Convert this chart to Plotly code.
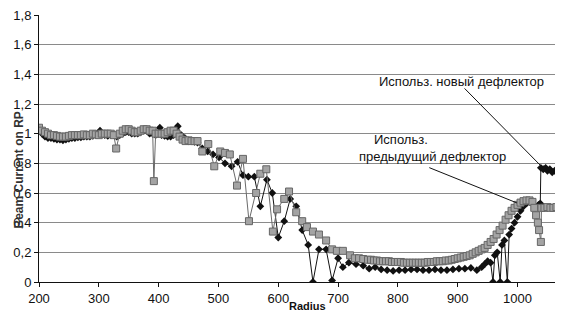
import plotly.graph_objects as go

# ---- data: previous deflector (grey squares) ----
prev_r = [200, 205, 210, 215, 220, 225, 230, 235, 240, 245, 250, 255, 260, 265, 270, 275,
          280, 285, 290, 295, 300, 305, 310, 315, 320, 325, 329, 335, 340, 345, 350, 355,
          360, 365, 370, 375, 380, 385, 390, 392, 395, 400, 405, 410, 415, 420, 425, 430,
          435, 440, 445, 450, 455, 460, 465,
          473, 483, 493, 503, 511, 519, 531, 541, 551, 563, 570, 580, 591, 598, 610, 618,
          630, 640, 648, 658, 668, 680, 690, 698, 708, 720, 728, 735, 742, 750, 755, 760,
          765, 770, 775, 780, 785, 790, 795, 800, 805, 810, 815, 820, 825, 830, 835, 840,
          845, 850, 855, 860, 865, 870, 875, 880, 885, 890, 895, 900, 905, 910, 915, 920,
          925, 930, 935, 940, 945, 950, 955, 960, 965, 970, 975, 980, 985, 990, 995, 1000,
          1005, 1010, 1015, 1020, 1025, 1028, 1031, 1034, 1036, 1039, 1040, 1045, 1050,
          1055, 1060, 1065, 1070, 1075]
prev_v = [1.04, 1.02, 1.01, 1.0, 0.99, 0.99, 0.985, 0.98, 0.98, 0.98, 0.985, 0.99, 0.99, 0.99,
          0.99, 0.995, 0.99, 0.99, 1.0, 0.995, 0.99, 1.0, 1.0, 1.0, 1.0, 0.99, 0.90, 1.0, 1.02,
          1.03, 1.03, 1.02, 1.01, 1.01, 1.02, 1.03, 1.03, 1.02, 1.02, 0.68, 1.0, 1.0, 1.0, 1.0,
          1.01, 1.02, 1.02, 1.0, 0.98, 0.96, 0.95, 0.955, 0.95, 0.95, 0.95,
          0.88, 0.93, 0.78, 0.88, 0.87, 0.86, 0.65, 0.83, 0.41, 0.60, 0.73, 0.76, 0.34, 0.49,
          0.56, 0.61, 0.47, 0.41, 0.37, 0.34, 0.32, 0.28, 0.22, 0.21, 0.21, 0.18, 0.16, 0.16,
          0.155, 0.15, 0.15, 0.145, 0.145, 0.14, 0.14, 0.14, 0.14, 0.135, 0.135, 0.135, 0.135,
          0.13, 0.13, 0.13, 0.13, 0.13, 0.13, 0.13, 0.13, 0.135, 0.135, 0.135, 0.14, 0.14,
          0.14, 0.145, 0.145, 0.15, 0.155, 0.16, 0.165, 0.17, 0.175, 0.18, 0.19, 0.2, 0.21,
          0.22, 0.23, 0.25, 0.27, 0.29, 0.32, 0.35, 0.38, 0.42, 0.45, 0.48, 0.50, 0.52,
          0.535, 0.545, 0.55, 0.55, 0.54, 0.50, 0.45, 0.40, 0.35, 0.27, 0.50, 0.50, 0.505,
          0.50, 0.50, 0.505, 0.50, 0.50]

# ---- data: new deflector (black diamonds) ----
new_r = [200, 205, 210, 215, 220, 225, 230, 235, 240, 245, 250, 255, 260, 265, 270, 275,
         280, 285, 290, 295, 302, 305, 310, 315, 320, 325, 330, 335, 340, 345, 350, 355,
         360, 365, 370, 375, 380, 385, 390, 395, 402, 405, 410, 415, 420, 425, 432, 438,
         444, 450, 455, 460, 465,
         473, 482, 491, 501, 511, 522, 532, 541, 550, 560, 570, 581, 590, 600, 610, 620,
         630, 640, 650, 658, 668, 680, 690, 700, 708, 718, 730, 742, 752, 762, 772, 782,
         792, 802, 812, 822, 832, 842, 852, 862, 872, 882, 892, 902, 912, 922, 932, 940,
         945, 950, 955, 959, 962, 966, 971, 974, 978, 983, 986, 990, 995, 1000, 1005, 1010,
         1015, 1020, 1025, 1030, 1035, 1038, 1039, 1043, 1047, 1050, 1054, 1058, 1062,
         1066, 1070, 1073]
new_v = [1.03, 1.0, 0.98, 0.97, 0.97, 0.965, 0.96, 0.96, 0.955, 0.96, 0.965, 0.97, 0.97,
         0.975, 0.975, 0.98, 0.98, 0.98, 0.985, 0.99, 1.02, 1.0, 0.99, 0.985, 0.99, 0.99,
         0.98, 0.99, 1.0, 1.01, 1.01, 1.0, 1.0, 1.0, 1.01, 1.02, 1.02, 1.0, 1.0, 0.99, 1.04,
         0.99, 0.985, 0.98, 0.98, 0.99, 1.05, 0.99, 0.97, 0.955, 0.95, 0.945, 0.94,
         0.90, 0.88, 0.86, 0.84, 0.80, 0.78, 0.81, 0.72, 0.71, 0.71, 0.51, 0.69, 0.60, 0.30,
         0.41, 0.56, 0.51, 0.35, 0.25, 0.0, 0.22, 0.22, 0.01, 0.16, 0.10, 0.13, 0.12, 0.11,
         0.09, 0.10, 0.085, 0.08, 0.075, 0.08, 0.08, 0.085, 0.085, 0.08, 0.08, 0.085, 0.08,
         0.08, 0.085, 0.09, 0.09, 0.095, 0.08, 0.10,
         0.12, 0.14, 0.13, 0.0, 0.18, 0.20, 0.0, 0.25, 0.28, 0.0, 0.32, 0.36, 0.40, 0.44,
         0.48, 0.51, 0.53, 0.54, 0.53, 0.50, 0.52, 0.53, 0.77, 0.76, 0.77, 0.75, 0.76, 0.74,
         0.75, 0.74, 0.72, 0.71]

x_ticks = [200, 300, 400, 500, 600, 700, 800, 900, 1000]
y_ticks = [0, 0.2, 0.4, 0.6, 0.8, 1.0, 1.2, 1.4, 1.6, 1.8]
y_tick_labels = ["0", "0,2", "0,4", "0,6", "0,8", "1", "1,2", "1,4", "1,6", "1,8"]

fig = go.Figure()
fig.add_trace(go.Scatter(
    x=new_r, y=new_v, mode="lines+markers", name="new",
    line=dict(color="#111111", width=1),
    marker=dict(symbol="diamond", size=6, color="#111111"),
))
fig.add_trace(go.Scatter(
    x=prev_r, y=prev_v, mode="lines+markers", name="prev",
    line=dict(color="#6a6a6a", width=1),
    marker=dict(symbol="square", size=7, color="#a4a4a4",
                line=dict(color="#666666", width=1)),
))

font = dict(family="Liberation Sans, Arial, sans-serif", size=12, color="#111")

# page body has an 8px default margin, so the figure is sized to fill the rest
fig.update_layout(
    width=555, height=305,
    margin=dict(l=31, r=0, t=7, b=31, autoexpand=False),
    paper_bgcolor="white", plot_bgcolor="white",
    showlegend=False,
    font=font,
    xaxis=dict(range=[200, 1076], tickvals=x_ticks, showgrid=False, zeroline=False,
               showline=True, linecolor="#111", linewidth=1, automargin=False,
               ticks="outside", ticklen=4, tickcolor="#111", ticklabeloverflow="allow",
               tickfont=dict(size=13), fixedrange=True),
    yaxis=dict(range=[0, 1.8], tickvals=y_ticks, ticktext=y_tick_labels,
               showgrid=True, gridcolor="#8a8a8a", gridwidth=1, zeroline=False,
               showline=True, linecolor="#111", linewidth=1, automargin=False,
               ticks="outside", ticklen=4, tickcolor="#111", ticklabeloverflow="allow",
               tickfont=dict(size=13), fixedrange=True),
    annotations=[
        dict(text="<b>Radius</b>", xref="paper", yref="paper", x=0.512, y=-0.118,
             yanchor="bottom", showarrow=False, font=dict(size=11)),
        dict(text="<b>Beam Current on RP</b>", xref="paper", yref="paper", x=-0.056,
             y=0.42, textangle=-90, showarrow=False, font=dict(size=12, color="#333")),
        dict(text="Использ. новый дефлектор", xref="x", yref="y", x=906, y=1.35,
             showarrow=False, font=dict(size=13)),
        dict(text="Использ.", xref="x", yref="y", x=757, y=0.958, xanchor="left",
             showarrow=False, font=dict(size=13)),
        dict(text="предыдущий дефлектор", xref="x", yref="y", x=731, y=0.843,
             xanchor="left", showarrow=False, font=dict(size=13)),
        dict(text="", xref="x", yref="y", x=1041, y=0.775, axref="x", ayref="y",
             ax=909, ay=1.315, showarrow=True, arrowhead=0, arrowwidth=1,
             arrowcolor="#111"),
        dict(text="", xref="x", yref="y", x=999, y=0.533, axref="x", ayref="y",
             ax=850, ay=0.775, showarrow=True, arrowhead=0, arrowwidth=1,
             arrowcolor="#111"),
    ],
)

fig.write_html("out.html")
